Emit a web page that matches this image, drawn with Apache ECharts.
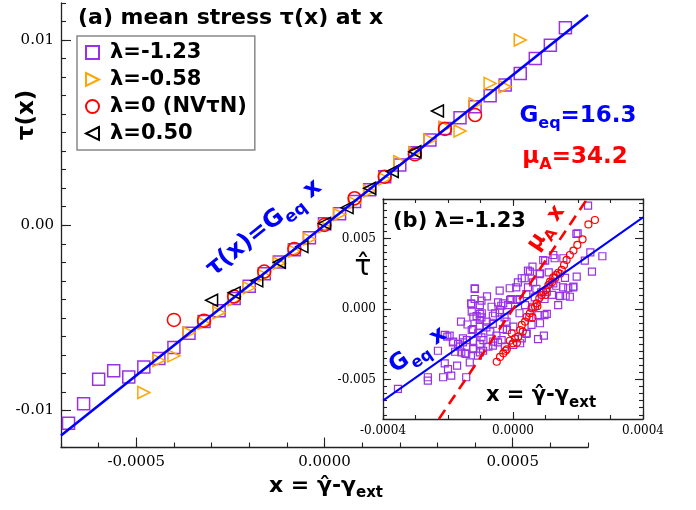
<!DOCTYPE html>
<html>
<head>
<meta charset="utf-8">
<script src="https://cdn.jsdelivr.net/npm/echarts@6/dist/echarts.min.js"></script>
<style>html,body{margin:0;padding:0;background:#fff;}#c{width:696px;height:510px;}</style>
</head>
<body>
<div id="c"></div>
<script>
// ---------------- DATA ----------------
const seriesNames = ['λ=-1.23', 'λ=-0.58', 'λ=0 (NVτN)', 'λ=0.50'];

// panel (a): mean stress tau(x) at x
const sqX = [-0.00068,-0.00064,-0.00060,-0.00056,-0.00052,-0.00048,-0.00044,-0.00040,-0.00036,-0.00032,-0.00028,-0.00024,-0.00020,-0.00016,-0.00012,-0.00008,-0.00004,0.00000,0.00004,0.00008,0.00012,0.00016,0.00020,0.00024,0.00028,0.00032,0.00036,0.00040,0.00044,0.00048,0.00052,0.00056,0.00060,0.00064];
const sqY = [-0.01069,-0.00964,-0.00831,-0.00786,-0.00819,-0.00766,-0.00720,-0.00660,-0.00583,-0.00520,-0.00462,-0.00395,-0.00330,-0.00262,-0.00198,-0.00132,-0.00068,0.00008,0.00062,0.00128,0.00192,0.00262,0.00325,0.00392,0.00460,0.00522,0.00581,0.00640,0.00699,0.00757,0.00820,0.00901,0.00972,0.01066];

const orX = [-0.00048,-0.00044,-0.00040,-0.00036,-0.00032,-0.00028,-0.00024,-0.00020,-0.00016,-0.00012,-0.00008,-0.00004,0.00000,0.00004,0.00008,0.00012,0.00016,0.00020,0.00024,0.00028,0.00032,0.00036,0.00040,0.00044,0.00048,0.00052];
const orY = [-0.00903,-0.00730,-0.00705,-0.00581,-0.00530,-0.00472,-0.00402,-0.00338,-0.00272,-0.00205,-0.00140,-0.00075,-0.00008,0.00058,0.00122,0.00185,0.00250,0.00343,0.00392,0.00460,0.00530,0.00509,0.00655,0.00766,0.00748,0.01000];

const ciX = [-0.00040,-0.00032,-0.00024,-0.00016,-0.00008,0.00000,0.00008,0.00016,0.00024,0.00032,0.00040];
const ciY = [-0.00511,-0.00515,-0.00385,-0.00250,-0.00128,0.00002,0.00146,0.00262,0.00383,0.00520,0.00595];

const trX = [-0.00030,-0.00024,-0.00018,-0.00012,-0.00006,0.00000,0.00006,0.00012,0.00018,0.00024,0.00030];
const trY = [-0.00405,-0.00365,-0.00300,-0.00200,-0.00115,0.00010,0.00095,0.00200,0.00290,0.00397,0.00617];

// fitted line tau = Geq x (end points)
const fitX = [-0.0007, 0.0007];
const fitY = [-0.01135, 0.01135];

// panel (b): lambda = -1.23 scatter
const inSq = [
[-0.000354,-0.00567],[-0.000262,-0.00484],[-0.000262,-0.00508],[-0.000215,-0.00484],[-0.000190,-0.00473],
[-0.000172,-0.00402],[-0.000144,-0.00484],[-0.000200,-0.00426],[-0.000210,-0.00385],[-0.000231,-0.00296],
[-0.000210,-0.00184],[-0.000169,-0.00248],[-0.000159,-0.00307],[-0.000144,-0.00319],[-0.000133,-0.00378],
[-0.000154,-0.00236],[-0.000154,-0.00208],[-0.000123,-0.00225],[-0.000102,-0.00248],[-0.000097,-0.00201],
[-0.000092,-0.00296],[-0.000102,-0.00307],[-0.000108,-0.00331],[-0.000123,-0.00142],[-0.000102,-0.00118],
[-0.000082,-0.00130],[-0.000062,-0.00106],[-0.000102,-0.00035],[-0.000097,-0.00059],[-0.000062,-0.00048],
[-0.000041,-0.00023],[-0.000026,-0.00059],[-0.000123,-0.00284],[-0.000185,-0.00236],[-0.000195,-0.00189],
[-0.000051,-0.00189],[-0.000031,-0.00142],[-0.000062,-0.00260],[-0.000046,-0.00236],
[-0.000118,0.00147],[-0.000041,0.00130],[-0.000010,0.00147],[-0.000118,0.00071],[-0.000097,0.00059],
[-0.000128,0.00035],[-0.000046,0.00047],[-0.000005,0.00071],[-0.000036,0.00023],[-0.000015,0.00028],
[0.000231,0.00733],[0.000195,0.00532],[0.000128,0.00360],[0.000099,0.00343],[0.000238,0.00402],
[0.000275,0.00374],[0.000221,0.00343],[0.000243,0.00265],[0.000185,0.00154],[0.000162,0.00094],
[0.000046,0.00272],[0.000082,0.00248],[0.000036,0.00218],[0.000015,0.00189],[0.000062,0.00189],
[0.000046,0.00154],[0.000072,0.00142],[0.000087,0.00118],[0.000041,0.00106],[0.000067,0.00083],
[0.000097,0.00071],[0.000021,0.00071],[0.000010,0.00154],[0.000133,0.00165],[0.000154,0.00154],
[0.000144,0.00094],[0.000097,-0.00043],[0.000041,-0.00177],[0.000077,-0.00213],
[0.000042,-0.00172],[0.000027,-0.00208],[0.000022,-0.00243],[0.000001,-0.00255],[-0.000025,-0.00267],
[-0.000035,-0.00220],[-0.000019,-0.00149],[0.000001,-0.00125],[0.000057,-0.00113],[0.000083,-0.00101],
[0.000104,-0.00035],[0.000078,-0.00043],[0.000062,0.00016],[0.000037,0.00028],[0.000011,0.00064],
[0.000139,0.00028],[0.000145,0.00092],[0.000175,0.00087],[0.000170,0.00147],[0.000186,0.00158],
[0.000124,0.00182],[0.000104,0.00123],[0.000093,0.00346],[0.000052,0.00265],[0.000083,0.00253],
[0.000027,0.00218],[-0.000117,0.00142],[-0.000129,0.00040],[-0.000102,0.00028],[-0.000127,-0.00019],
[-0.000112,-0.00050],[-0.000096,-0.00030],[-0.000066,0.00016],[-0.000055,-0.00030],[-0.000040,-0.00007],
[-0.000030,0.00040],[-0.000009,0.00064],[-0.000081,-0.00090],[-0.000102,-0.00078],[-0.000122,-0.00055],
[-0.000127,-0.00149],[-0.000107,-0.00172],[-0.000142,-0.00220],[-0.000163,-0.00267],[-0.000184,-0.00232],
[-0.000202,-0.00196],[-0.000178,-0.00303],[-0.000148,-0.00314],[-0.000122,-0.00279],[-0.000091,-0.00220],
[-0.000076,-0.00267],[-0.000061,-0.00232],[0.000095,-0.00189],[0.000124,0.00383],[0.000155,0.00360],
[0.000196,0.00229],[0.000199,0.00537],[-0.000020,-0.00090],[0.000020,-0.00030],[-0.000070,-0.00160],
[0.000050,-0.00060],[-0.000080,0.00090],[0.000120,0.00100],[0.000110,0.00260],[0.000060,0.00300],
[0.000160,0.00220],[-0.000160,-0.00090],[-0.000140,-0.00110]
];
const inCi = [
[-0.000050,-0.00374],[-0.000040,-0.00340],[-0.000030,-0.00314],[-0.000023,-0.00296],[-0.000019,-0.00286],
[-0.000010,-0.00225],[0.000000,-0.00243],[0.000006,-0.00208],[-0.000004,-0.00172],[0.000016,-0.00196],
[0.000012,-0.00240],[0.000022,-0.00149],[0.000030,-0.00160],[0.000027,-0.00113],[0.000037,-0.00090],
[0.000042,-0.00055],[0.000060,-0.00060],[0.000052,-0.00030],[0.000057,0.00005],[0.000068,0.00016],
[0.000075,0.00020],[0.000073,0.00040],[0.000081,0.00076],[0.000088,0.00099],[0.000100,0.00100],
[0.000093,0.00123],[0.000102,0.00135],[0.000109,0.00170],[0.000120,0.00190],[0.000114,0.00194],
[0.000124,0.00225],[0.000130,0.00220],[0.000132,0.00241],[0.000145,0.00250],[0.000139,0.00257],
[0.000150,0.00277],[0.000157,0.00312],[0.000165,0.00348],[0.000175,0.00383],[0.000186,0.00414],
[0.000198,0.00454],[0.000214,0.00494],[0.000232,0.00600],[0.000252,0.00631]
];
const inFitX = [-0.0004, 0.0004];
const inFitY = [-0.0065, 0.0065];
const muX = [-0.000228, 0.000228];
const muY = [-0.0078, 0.0078];

// tick labels
const mainXMajor = [-0.0005, 0, 0.0005];
const mainXLabels = ['-0.0005', '0.0000', '0.0005'];
const mainYMajor = [-0.01, 0, 0.01];
const mainYLabels = ['-0.01', '0.00', '0.01'];
const inXMajor = [-0.0004, 0, 0.0004];
const inXLabels = ['-0.0004', '0.0000', '0.0004'];
const inYMajor = [-0.005, 0, 0.005];
const inYLabels = ['-0.005', '0.000', '0.005'];

// ---------------- HELPERS ----------------
function ticks(a, b, step) {
  const out = []; const n = Math.round((b - a) / step);
  for (let i = 0; i <= n; i++) out.push(+(a + i * step).toFixed(9));
  return out;
}
function zip(xs, ys) { return xs.map((x, i) => [x, ys[i]]); }
function fmt(major, labels) {
  return v => { const i = major.findIndex(m => Math.abs(m - v) < 1e-9); return i >= 0 ? labels[i] : ''; };
}
const SANS = 'DejaVu Sans', SERIF = 'DejaVu Serif';
const AX = '#222';
const PURPLE = '#9932e6', ORANGE = '#ffa500', RED = '#ff0000', BLUE = '#0000ff';

function axis(kind, gi, pos, min, max, tickVals, len, showLine, labelVals, labels, lsize, margin) {
  return {
    type: 'value', gridIndex: gi, position: pos, min: min, max: max, offset: 0,
    axisLine: { show: showLine, onZero: false, lineStyle: { color: AX, width: 1.3 } },
    axisTick: { show: true, inside: true, length: len, customValues: tickVals, lineStyle: { color: AX, width: 1.1 } },
    axisLabel: labelVals ? { show: true, customValues: labelVals, formatter: fmt(labelVals, labels), fontFamily: SERIF, fontSize: lsize, color: '#000', margin: margin } : { show: false },
    splitLine: { show: false }
  };
}

const mainXMinor = ticks(-0.0007, 0.0007, 0.0001);
const mainYMinor = ticks(-0.012, 0.012, 0.001);
const inXMinor = ticks(-0.0004, 0.0004, 0.0001);
const inYMinor = ticks(-0.0075, 0.0075, 0.0005);

const xAxes = [
  axis('x', 0, 'bottom', -0.0007, 0.0007, mainXMinor, 5, true),
  axis('x', 0, 'bottom', -0.0007, 0.0007, mainXMajor, 10, false, mainXMajor, mainXLabels, 15, 7),
  axis('x', 1, 'bottom', -0.0004, 0.0004, inXMinor, 4, true),
  axis('x', 1, 'bottom', -0.0004, 0.0004, inXMajor, 7, false, inXMajor, inXLabels, 12, 6),
  axis('x', 1, 'top', -0.0004, 0.0004, inXMinor, 4, true),
  axis('x', 1, 'top', -0.0004, 0.0004, inXMajor, 7, false)
];
const yAxes = [
  axis('y', 0, 'left', -0.012, 0.012, mainYMinor, 5, true),
  axis('y', 0, 'left', -0.012, 0.012, mainYMajor, 10, false, mainYMajor, mainYLabels, 15, 7),
  axis('y', 1, 'left', -0.0078, 0.0078, inYMinor, 4, true),
  axis('y', 1, 'left', -0.0078, 0.0078, inYMajor, 8, false, inYMajor, inYLabels, 12, 7),
  axis('y', 1, 'right', -0.0078, 0.0078, inYMinor, 4, true),
  axis('y', 1, 'right', -0.0078, 0.0078, inYMajor, 8, false)
];

const triRight = 'path://M0,0 L10,5 L0,10 Z';
const triLeft = 'path://M10,0 L0,5 L10,10 Z';
function scat(name, data, symbol, size, color, xi, yi, z) {
  return {
    type: 'scatter', name: name, data: data, xAxisIndex: xi, yAxisIndex: yi,
    symbol: symbol, symbolSize: size, symbolKeepAspect: true, z: z,
    itemStyle: { color: 'rgba(0,0,0,0)', borderColor: color, borderWidth: xi === 0 ? 1.5 : 1.2, opacity: 1 },
    emphasis: { disabled: true }, silent: true
  };
}
function line(data, color, width, type, xi, yi, z) {
  return {
    type: 'line', data: data, xAxisIndex: xi, yAxisIndex: yi, symbol: 'none', z: z, silent: true,
    lineStyle: { color: color, width: width, type: type }, clip: true
  };
}

const series = [
  scat(seriesNames[0], zip(sqX, sqY), 'rect', 12, PURPLE, 0, 0, 2),
  scat(seriesNames[1], zip(orX, orY), triRight, 12, ORANGE, 0, 0, 3),
  scat(seriesNames[2], zip(ciX, ciY), 'circle', 13, RED, 0, 0, 4),
  scat(seriesNames[3], zip(trX, trY), triLeft, 12, '#000', 0, 0, 5),
  line(zip(fitX, fitY), BLUE, 2.6, 'solid', 0, 0, 6),
  scat('inSq', inSq, 'rect', 7, PURPLE, 2, 2, 2),
  scat('inCi', inCi, 'circle', 7, RED, 2, 2, 3),
  line(zip(inFitX, inFitY), BLUE, 2, 'solid', 2, 2, 4),
  line(zip(muX, muY), RED, 2.6, [11, 7], 2, 2, 5)
];

function rt(x, y, rot, text, rich, color, size, weight) {
  return {
    type: 'text', x: x, y: y, rotation: rot * Math.PI / 180, z: 100, silent: true,
    style: { text: text, fill: color, fontSize: size, fontWeight: weight || 'bold', fontFamily: SANS,
      align: 'center', verticalAlign: 'middle', rich: rich || {} }
  };
}
function subRich(color, main, sub, L) {
  return {
    m: { fontSize: main, fontWeight: 'bold', fontFamily: SANS, fill: color, lineHeight: L },
    s: { fontSize: sub, fontWeight: 'bold', fontFamily: SANS, fill: color, lineHeight: sub + 1, verticalAlign: 'bottom' }
  };
}

const graphics = [
  { type: 'text', x: 78, y: 18, z: 100, silent: true,
    style: { text: '(a) mean stress τ(x) at x', fill: '#000', fontSize: 22, fontWeight: 'bold', fontFamily: SANS, align: 'left', verticalAlign: 'middle' } },
  rt(27, 115, 90, 'τ(x)', null, '#000', 23),
  rt(326, 486, 0, '{m|x = γ̂-γ}{s|ext}', subRich('#000', 22, 15, 30), '#000', 22),
  rt(578, 116, 0, '{m|G}{s|eq}{m|=16.3}', subRich(BLUE, 23, 16, 32), BLUE, 23),
  rt(575, 157, 0, '{m|μ}{s|A}{m|=34.2}', subRich(RED, 23, 16, 32), RED, 23),
  rt(264, 228, 38.6, '{m|τ(x)=G}{s|eq}{m| x}', subRich(BLUE, 24, 17, 34), BLUE, 24),
  { type: 'text', x: 393, y: 222, z: 100, silent: true,
    style: { text: '(b) λ=-1.23', fill: '#000', fontSize: 21, fontWeight: 'bold', fontFamily: SANS, align: 'left', verticalAlign: 'middle' } },
  rt(541, 396, 0, '{m|x = γ̂-γ}{s|ext}', subRich('#000', 21, 15, 30), '#000', 21),
  rt(363, 268, 0, 'τ̂', null, '#000', 28, 'normal'),
  rt(418, 350, 34.7, '{m|G}{s|eq}{m| x}', subRich(BLUE, 23, 16, 36), BLUE, 23),
  rt(546, 228, 55.5, '{m|μ}{s|A}{m| x}', subRich(RED, 22, 15, 32), RED, 22)
];

const chart = echarts.init(document.getElementById('c'), null, { renderer: 'canvas', width: 696, height: 510 });
chart.setOption({
  animation: false,
  backgroundColor: '#fff',
  grid: [
    { left: 61, top: 3, width: 527, height: 444.5, containLabel: false, outerBoundsMode: 'none' },
    { left: 383, top: 199, width: 260, height: 220, containLabel: false, outerBoundsMode: 'none',
      show: true, backgroundColor: '#fff', borderWidth: 0 }
  ],
  xAxis: xAxes,
  yAxis: yAxes,
  legend: {
    data: seriesNames, left: 77, top: 36, orient: 'vertical', selectedMode: false,
    padding: [6, 8, 6, 8], itemGap: 6, itemWidth: 13, itemHeight: 13,
    borderColor: '#888', borderWidth: 1.5, backgroundColor: '#fff',
    formatter: name => '{sp|}{t|' + name + '}',
    textStyle: { fontFamily: SANS, fontSize: 21, fontWeight: 'bold', color: '#000', lineHeight: 21,
      rich: { sp: { width: 6 }, t: { fontFamily: SANS, fontSize: 21, fontWeight: 'bold', color: '#000', lineHeight: 21 } } }
  },
  series: series,
  graphic: graphics
});
</script>
</body>
</html>
